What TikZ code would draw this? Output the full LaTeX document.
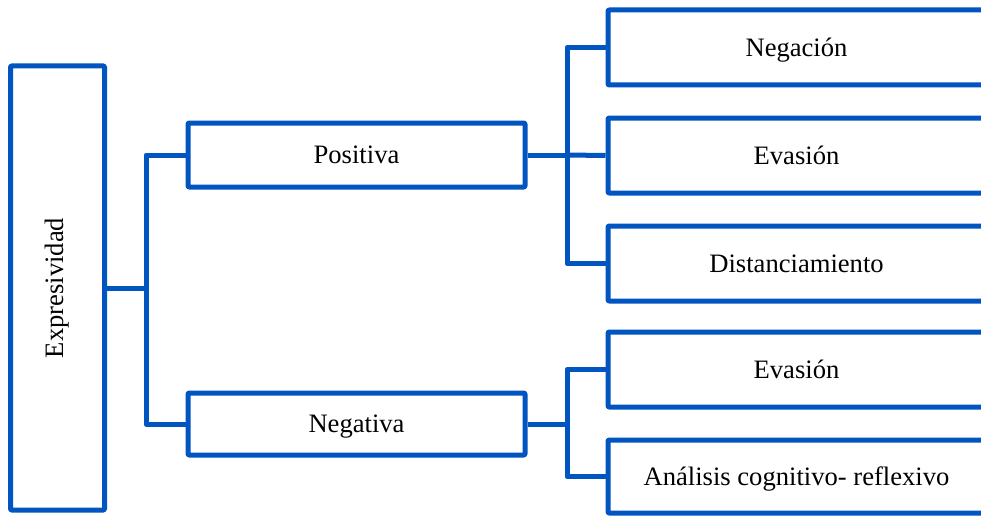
\documentclass[tikz,border=0pt]{standalone}
\usepackage{fontspec}
\setmainfont{Liberation Serif}
\definecolor{bb}{RGB}{0,85,192}
\begin{document}
\begin{tikzpicture}[x=1pt,y=-1pt,
  frame/.style={draw=bb, line width=5pt, line join=round, rounded corners=1pt, fill=white, inner sep=0pt, font=\fontsize{26.6}{30}\selectfont},
  box/.style={frame, text height=17.5pt, text depth=0pt},
  conn/.style={draw=bb, line width=5pt, line join=round}]
\useasboundingbox (0,0) rectangle (981,516);
\clip (0,0) rectangle (981,516);
\node[frame, minimum width=94, minimum height=444] (E) at (57.5,288) {\rotatebox{90}{Expresividad}};
\node[box, minimum width=337, minimum height=64] (P) at (356.5,155) {Positiva};
\node[box, minimum width=337, minimum height=62] (N) at (356.5,424) {Negativa};
\node[box, minimum width=377, minimum height=75] (R1) at (796.5,47.5) {Negación};
\node[box, minimum width=377, minimum height=75] (R2) at (796.5,155.5) {Evasión};
\node[box, minimum width=377, minimum height=75] (R3) at (796.5,263.5) {Distanciamiento};
\node[box, minimum width=377, minimum height=75] (R4) at (796.5,369.5) {Evasión};
\node[box, minimum width=377, minimum height=73] (R5) at (796.5,476.5) {Análisis cognitivo- reflexivo};
\coordinate (j1) at (146,288);
\coordinate (j2) at (567,155);
\coordinate (j3) at (567,424);
\draw[conn] (E.east) -- (j1);
\draw[conn] (P.west) -| (j1);
\draw[conn] (N.west) -| (j1);
\draw[conn] (P.east) -- (j2);
\draw[conn] (R1.west) -| (j2);
\draw[conn] (R2.west) -- (j2);
\draw[conn] (R3.west) -| (j2);
\draw[conn] (N.east) -- (j3);
\draw[conn] (R4.west) -| (j3);
\draw[conn] (R5.west) -| (j3);
\end{tikzpicture}
\end{document}
